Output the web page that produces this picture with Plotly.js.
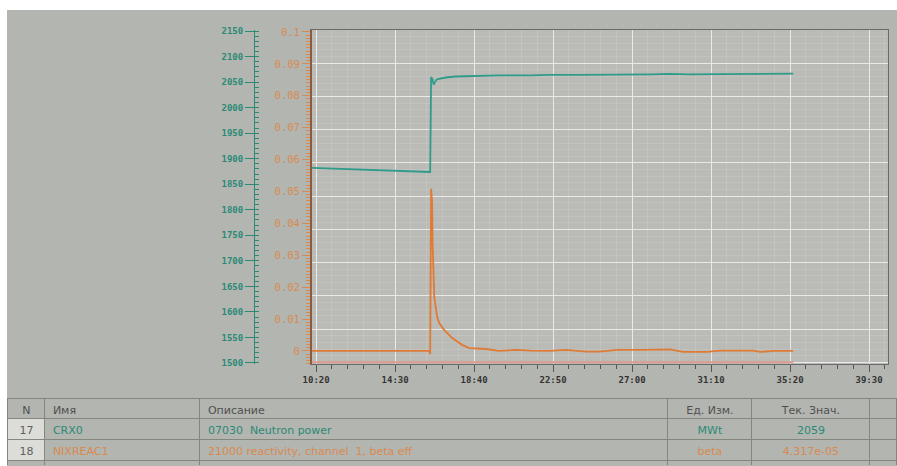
<!DOCTYPE html>
<html>
<head>
<meta charset="utf-8">
<script src="https://cdn.plot.ly/plotly-3.0.1.min.js"></script>
<style>
  html, body { margin: 0; padding: 0; background: #ffffff; width: 897px; height: 466px; overflow: hidden; }
  #chart { position: absolute; left: 7px; top: 10px; width: 890px; height: 456px; }
  .scrollbar-kit { display: none; }
</style>
</head>
<body>
<div id="chart"></div>
<script>
// ---- Data ----
const timeTickSeconds = [620, 870, 1120, 1370, 1620, 1870, 2120, 2370];
const timeTickLabels  = ['10:20', '14:30', '18:40', '22:50', '27:00', '31:10', '35:20', '39:30'];

const powerTime = [607, 700, 800, 900, 975, 981, 984, 988, 992, 996, 1000, 1005, 1012, 1030, 1060, 1110, 1200, 1300, 1360, 1450, 1580, 1680, 1740, 1770, 1800, 1900, 2025, 2130];
const powerMWt  = [1882, 1880, 1878, 1876, 1874, 1874, 2060, 2056, 2045, 2050, 2054, 2056, 2057, 2059, 2061, 2062, 2063, 2063, 2064, 2064, 2064, 2065, 2066, 2065.5, 2065, 2065.5, 2066, 2066.5];

const reactTime = [607, 700, 800, 900, 978, 981, 984, 987, 989, 994, 1003, 1009, 1025, 1050, 1082, 1104, 1158, 1199, 1253, 1300, 1357, 1411, 1475, 1516, 1573, 1650, 1740, 1781, 1857, 1898, 2003, 2025, 2072, 2130];
const reactBeta = [0.0000, 0.0000, 0.0001, 0.0000, 0.0000, -0.0010, 0.0508, 0.0470, 0.0326, 0.0169, 0.0107, 0.0088, 0.0066, 0.0041, 0.0019, 0.0009, 0.0006, 0.0000, 0.0003, 0.0001, 0.0000, 0.0003, -0.0002, -0.0002, 0.0003, 0.0003, 0.0005, -0.0003, -0.0003, 0.0001, 0.0001, -0.0003, 0.0000, 0.00004];

// bottom (pink) trace, drawn on the 10-division grid scale
const baselineTime  = [607, 2130];
const baselineValue = [0, 0];

const tableHeader = ['N', 'Имя', 'Описание', 'Ед. Изм.', 'Тек. Знач.', ''];
const colN     = ['17', '18', ''];
const colName  = ['CRX0', 'NIXREAC1', ''];
const colDesc  = ['07030  Neutron power', '21000 reactivity, channel  1, beta eff', ''];
const colUnit  = ['MWt', 'beta', ''];
const colValue = ['2059', '4.317e-05', ''];
const colExtra = ['', '', ''];

// ---- Styling ----
const BG = '#b3b5b0';
const PLOT_BG = '#babbb7';
const TEAL = '#2f9c8a';
const TEAL_TXT = '#2a8a76';
const ORANGE = '#e07b35';
const ORANGE_TXT = '#d98a50';
const MONO = 'DejaVu Sans Mono';

const traces = [
  { x: baselineTime, y: baselineValue, xaxis: 'x', yaxis: 'y3', mode: 'lines',
    line: { color: '#de9a8e', width: 2 }, hoverinfo: 'skip', showlegend: false },
  { x: reactTime, y: reactBeta, xaxis: 'x', yaxis: 'y', mode: 'lines',
    line: { color: ORANGE, width: 1.8 }, showlegend: false },
  { x: powerTime, y: powerMWt, xaxis: 'x', yaxis: 'y2', mode: 'lines',
    line: { color: TEAL, width: 1.8 }, showlegend: false },
  { type: 'table',
    domain: { x: [0.001, 1], y: [0, 0.149] },
    columnwidth: [37, 155, 468, 84, 118, 27],
    header: {
      values: tableHeader,
      align: ['center', 'left', 'left', 'center', 'center', 'center'],
      height: 20,
      fill: { color: BG },
      line: { color: '#85877f', width: 1 },
      font: { family: 'DejaVu Sans', size: 11, color: '#505050' }
    },
    cells: {
      values: [colN, colName, colDesc, colUnit, colValue, colExtra],
      align: ['center', 'left', 'left', 'center', 'center', 'center'],
      height: 21,
      fill: { color: [['#dcdcd8', '#dcdcd8', BG], BG, BG, BG, BG, BG] },
      line: { color: '#85877f', width: 1 },
      font: { family: 'DejaVu Sans', size: 11,
        color: [['#606060', '#606060', '#606060'],
                [TEAL_TXT, ORANGE_TXT, TEAL_TXT],
                [TEAL_TXT, ORANGE_TXT, TEAL_TXT],
                [TEAL_TXT, ORANGE_TXT, TEAL_TXT],
                [TEAL_TXT, ORANGE_TXT, TEAL_TXT],
                [TEAL_TXT, ORANGE_TXT, TEAL_TXT]] }
    }
  }
];

const layout = {
  width: 890, height: 456,
  margin: { l: 0, r: 0, t: 0, b: 0 },
  paper_bgcolor: BG,
  plot_bgcolor: PLOT_BG,
  showlegend: false,
  xaxis: {
    domain: [0.3427, 0.9899],
    range: [607, 2430],
    layer: 'below traces',
    tickmode: 'array', tickvals: timeTickSeconds, ticktext: timeTickLabels,
    ticks: 'outside', ticklen: 7, tickcolor: '#555555', tickwidth: 1,
    tickfont: { family: MONO, size: 9, color: '#333333', weight: 'bold' },
    showgrid: true, gridcolor: '#e9eae7', gridwidth: 1,
    minor: { tick0: 620, dtick: 50, ticks: 'outside', ticklen: 4, tickcolor: '#555555',
             showgrid: true, gridcolor: 'rgba(255,255,255,0.12)', gridwidth: 1 },
    showline: true, linecolor: '#6a6a6a', linewidth: 1, mirror: true,
    zeroline: false, fixedrange: true
  },
  yaxis: {
    domain: [0.2237, 0.9561],
    anchor: 'x',
    range: [-0.0041, 0.1006],
    tickmode: 'linear', tick0: 0, dtick: 0.01,
    tickformat: '~r',
    ticks: 'outside', ticklen: 8, tickcolor: ORANGE_TXT,
    tickfont: { family: MONO, size: 10.5, color: ORANGE_TXT },
    minor: { dtick: 0.001, ticks: 'outside', ticklen: 4, tickcolor: ORANGE_TXT, showgrid: false },
    showgrid: false, zeroline: false,
    showline: true, linecolor: '#8d5a3c', linewidth: 2,
    fixedrange: true
  },
  yaxis2: {
    overlaying: 'y',
    anchor: 'free', position: 0.2775, side: 'left',
    range: [1498, 2152],
    tickmode: 'linear', tick0: 1500, dtick: 50,
    ticks: 'outside', ticklen: 9, tickcolor: TEAL_TXT,
    tickfont: { family: MONO, size: 9, color: TEAL_TXT, weight: 'bold' },
    minor: { dtick: 10, ticks: 'inside', ticklen: 4, tickcolor: TEAL_TXT, showgrid: false },
    showgrid: false, zeroline: false,
    showline: true, linecolor: TEAL_TXT, linewidth: 1,
    fixedrange: true
  },
  yaxis3: {
    overlaying: 'y',
    anchor: 'x', side: 'right',
    range: [-0.05, 10], tickmode: 'linear', tick0: 0, dtick: 1,
    showticklabels: false, ticks: '',
    showgrid: true, gridcolor: '#e9eae7', gridwidth: 1,
    minor: { dtick: 0.2, showgrid: true, gridcolor: 'rgba(255,255,255,0.10)', gridwidth: 1 },
    zeroline: false,
    showline: true, linecolor: '#6a6a6a', linewidth: 1,
    fixedrange: true
  }
};

Plotly.newPlot('chart', traces, layout, { staticPlot: true, displayModeBar: false });
</script>
</body>
</html>
